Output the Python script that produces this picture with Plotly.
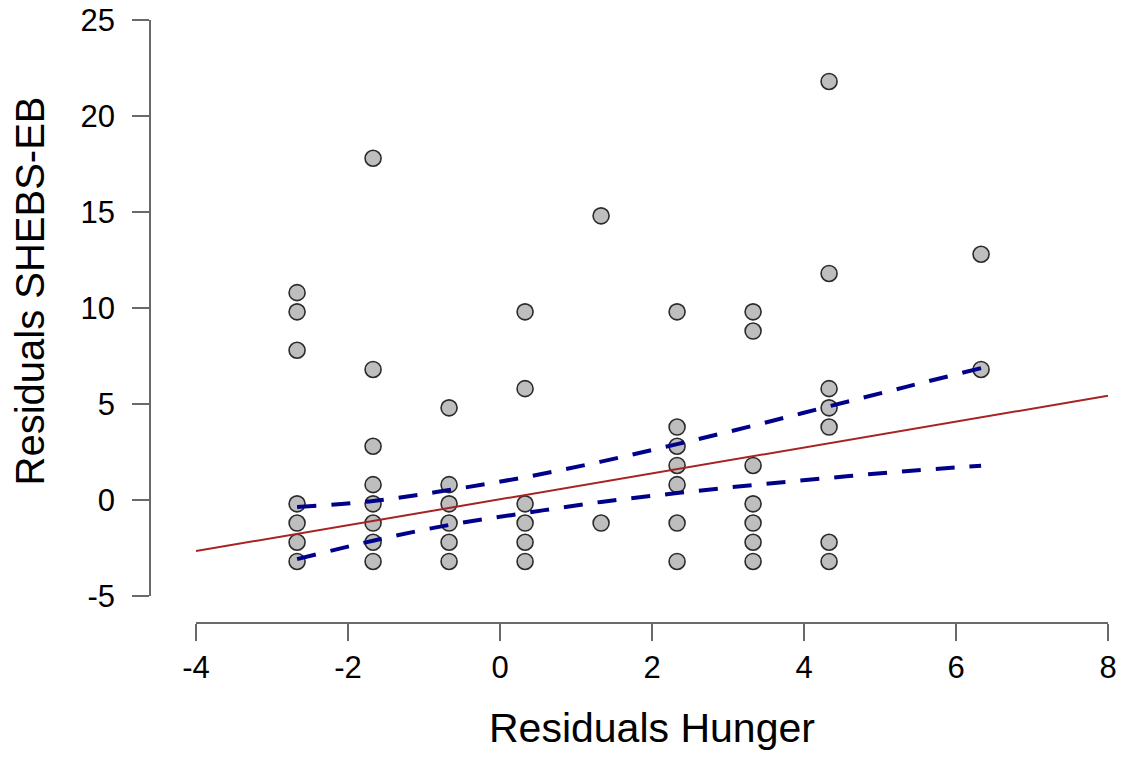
import plotly.graph_objects as go

# ---- data ----
pts_x = ([-2.67] * 7 + [-1.67] * 8 + [-0.67] * 6 + [0.33] * 6 + [1.33] * 2 +
         [2.33] * 7 + [3.33] * 7 + [4.33] * 7 + [6.33] * 2)
pts_y = ([10.8, 9.8, 7.8, -0.2, -1.2, -2.2, -3.2] +
         [17.8, 6.8, 2.8, 0.8, -0.2, -1.2, -2.2, -3.2] +
         [4.8, 0.8, -0.2, -1.2, -2.2, -3.2] +
         [9.8, 5.8, -0.2, -1.2, -2.2, -3.2] +
         [14.8, -1.2] +
         [9.8, 3.8, 2.8, 1.8, 0.8, -1.2, -3.2] +
         [9.8, 8.8, 1.8, -0.2, -1.2, -2.2, -3.2] +
         [21.8, 11.8, 5.8, 4.8, 3.8, -2.2, -3.2] +
         [12.8, 6.8])

fit_x = [-4, 8]
fit_y = [-2.66, 5.43]

ci_x = [-2.67, -1.67, -0.67, 0.33, 1.33, 2.33, 3.33, 4.33, 5.33, 6.33]
ci_upper = [-0.37, -0.05, 0.52, 1.19, 2.00, 2.91, 3.87, 4.88, 5.88, 6.87]
ci_lower = [-3.08, -2.12, -1.30, -0.68, -0.10, 0.36, 0.78, 1.15, 1.50, 1.78]

x_ticks = [-4, -2, 0, 2, 4, 6, 8]
y_ticks = [-5, 0, 5, 10, 15, 20, 25]

x_title = "Residuals Hunger"
y_title = "Residuals SHEBS-EB"

# ---- figure ----
W, H = 1125, 757
ML, MR, MT, MB = 150, 17, 20, 134
PW = W - ML - MR
PH = H - MT - MB

fig = go.Figure()

fig.add_trace(go.Scatter(
    x=pts_x, y=pts_y, mode="markers",
    marker=dict(size=16, color="#BEBEBE", line=dict(color="#2b2b2b", width=1.6)),
    showlegend=False, hoverinfo="x+y"))

fig.add_trace(go.Scatter(
    x=fit_x, y=fit_y, mode="lines",
    line=dict(color="#A82222", width=2),
    showlegend=False))

for ys in (ci_upper, ci_lower):
    fig.add_trace(go.Scatter(
        x=ci_x, y=ys, mode="lines",
        line=dict(color="#00008B", width=4, dash="19px,15px", shape="spline"),
        showlegend=False))

axis_col = "#6a6a6a"
tick_font = dict(family="Liberation Sans, Arial, sans-serif", size=31, color="black")

fig.update_layout(
    width=W, height=H,
    margin=dict(l=ML, r=MR, t=MT, b=MB, autoexpand=False),
    paper_bgcolor="white", plot_bgcolor="white",
    font=dict(family="Liberation Sans, Arial, sans-serif", color="black"),
    xaxis=dict(
        range=[-4, 8], domain=[(196 - ML) / PW, 1],
        anchor="free", position=0, automargin=False,
        tickmode="array", tickvals=x_ticks, ticktext=[str(v) for v in x_ticks],
        showline=True, linecolor=axis_col, linewidth=1.5,
        ticks="outside", ticklen=17, tickwidth=1.5, tickcolor=axis_col,
        tickfont=tick_font, ticklabelstandoff=0,
        showgrid=False, zeroline=False),
    yaxis=dict(
        range=[-5, 25], domain=[(H - MB - 596) / PH, 1],
        anchor="free", position=0, automargin=False,
        tickmode="array", tickvals=y_ticks, ticktext=[str(v) for v in y_ticks],
        showline=True, linecolor=axis_col, linewidth=1.5,
        ticks="outside", ticklen=17, tickwidth=1.5, tickcolor=axis_col,
        tickfont=tick_font, ticklabelstandoff=11,
        showgrid=False, zeroline=False),
    annotations=[
        dict(text=x_title, xref="paper", yref="paper",
             x=(652 - ML) / PW, y=(H - MB - 727.5) / PH,
             xanchor="center", yanchor="middle", showarrow=False,
             font=dict(size=41, color="black")),
        dict(text=y_title, xref="paper", yref="paper", textangle=-90,
             x=(29 - ML) / PW, y=(H - MB - 291.5) / PH,
             xanchor="center", yanchor="middle", showarrow=False,
             font=dict(size=40, color="black")),
    ],
)

fig.write_html(
    "out.html",
    config={"displayModeBar": False},
    post_script="document.body.style.margin='0';document.body.style.overflow='hidden';")
